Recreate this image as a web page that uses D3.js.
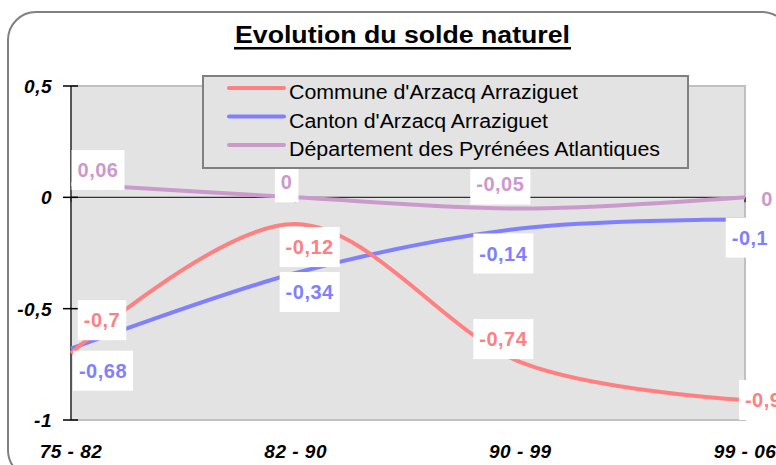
<!DOCTYPE html>
<html>
<head>
<meta charset="utf-8">
<script src="https://cdn.jsdelivr.net/npm/d3@7"></script>
<style>
  body { margin: 0; background: #fff; }
  svg { display: block; font-family: "Liberation Sans", Arial, sans-serif; }
</style>
</head>
<body>
<div id="chart"></div>
<script>
// data
const categories = ["75 - 82", "82 - 90", "90 - 99", "99 - 06"];
const commune = [-0.7, -0.12, -0.74, -0.91];
const canton = [-0.68, -0.34, -0.14, -0.1];
const departement = [0.06, 0, -0.05, 0];
const seriesNames = ["Commune d'Arzacq Arraziguet", "Canton d'Arzacq Arraziguet", "Département des Pyrénées Atlantiques"];
const yTicks = [0.5, 0, -0.5, -1];

const width = 776, height = 465;
const plot = { left: 71, right: 745, top: 86, bottom: 420 };

const series = [
  { name: seriesNames[0], values: commune, color: "#FF8080",
    // label offsets (centre of label box relative to the point)
    offsets: [[31, -33], [14, 23], [-17, -23], [24, 0]] },
  { name: seriesNames[1], values: canton, color: "#8080FF",
    offsets: [[32, 22], [14, 19], [-17, 25], [5, 18]] },
  { name: seriesNames[2], values: departement, color: "#CC99CC",
    offsets: [[27, -14], [-9, -15], [-20, -24], [22, 2]] }
];

const fmt = v => String(v).replace(".", ",");

const svg = d3.select("#chart").append("svg")
  .attr("width", width)
  .attr("height", height);

// outer chart frame
svg.append("rect")
  .attr("x", 8).attr("y", 12)
  .attr("width", 782).attr("height", 466)
  .attr("rx", 28)
  .attr("fill", "#fff")
  .attr("stroke", "#808080")
  .attr("stroke-width", 2);

// title
svg.append("text")
  .attr("x", 235).attr("y", 43)
  .attr("textLength", 335)
  .attr("lengthAdjust", "spacingAndGlyphs")
  .style("font-size", "23px")
  .style("font-weight", "bold")
  .text("Evolution du solde naturel");
svg.append("rect")
  .attr("x", 234).attr("y", 47)
  .attr("width", 337).attr("height", 2.5)
  .attr("fill", "#000");

const x = d3.scalePoint()
  .domain(categories)
  .range([plot.left, plot.right]);

const y = d3.scaleLinear()
  .domain([-1, 0.5])
  .range([plot.bottom, plot.top]);

// plot area
svg.append("rect")
  .attr("x", plot.left).attr("y", plot.top)
  .attr("width", plot.right - plot.left)
  .attr("height", plot.bottom - plot.top)
  .attr("fill", "#E3E3E3")
  .attr("stroke", "#C0C0C0")
  .attr("stroke-width", 2);

// zero line with category ticks
svg.append("line")
  .attr("x1", plot.left).attr("x2", plot.right)
  .attr("y1", y(0)).attr("y2", y(0))
  .attr("stroke", "#333")
  .attr("stroke-width", 1.2);
svg.selectAll("line.xtick")
  .data(categories)
  .enter().append("line")
  .attr("class", "xtick")
  .attr("x1", d => x(d)).attr("x2", d => x(d))
  .attr("y1", y(0)).attr("y2", y(0) + 5)
  .attr("stroke", "#000")
  .attr("stroke-width", 1.2);

// y axis
svg.append("line")
  .attr("x1", plot.left).attr("x2", plot.left)
  .attr("y1", plot.top).attr("y2", plot.bottom)
  .attr("stroke", "#333")
  .attr("stroke-width", 1.5);
svg.selectAll("line.ytick")
  .data(yTicks)
  .enter().append("line")
  .attr("class", "ytick")
  .attr("x1", plot.left - 8).attr("x2", plot.left + 7)
  .attr("y1", d => y(d)).attr("y2", d => y(d))
  .attr("stroke", "#000")
  .attr("stroke-width", 1.5);
svg.selectAll("text.ylab")
  .data(yTicks)
  .enter().append("text")
  .attr("class", "ylab")
  .attr("x", 52)
  .attr("y", d => y(d) + 7)
  .attr("text-anchor", "end")
  .style("font-size", "19px")
  .style("letter-spacing", "0.5px")
  .style("font-weight", "bold")
  .style("font-style", "italic")
  .text(d => fmt(d));

// x labels
svg.selectAll("text.xlab")
  .data(categories)
  .enter().append("text")
  .attr("class", "xlab")
  .attr("x", d => x(d))
  .attr("y", 458)
  .attr("text-anchor", "middle")
  .style("font-size", "19px")
  .style("letter-spacing", "0.5px")
  .style("font-weight", "bold")
  .style("font-style", "italic")
  .text(d => d);

// lines
const line = d3.line()
  .x((d, i) => x(categories[i]))
  .y(d => y(d))
  .curve(d3.curveCatmullRom.alpha(0));

[...series].reverse().forEach(s => {
  svg.append("path")
    .datum(s.values)
    .attr("d", line)
    .attr("fill", "none")
    .attr("stroke", s.color)
    .attr("stroke-width", 4)
    .attr("stroke-linejoin", "round");
});

// data labels
series.forEach(s => {
  s.values.forEach((v, i) => {
    const cx = x(categories[i]) + s.offsets[i][0];
    const cy = y(v) + s.offsets[i][1];
    const g = svg.append("g");
    const t = g.append("text")
      .attr("x", cx)
      .attr("y", cy + 7)
      .attr("text-anchor", "middle")
      .style("font-size", "20px")
      .style("letter-spacing", "0.5px")
      .style("font-weight", "bold")
      .attr("fill", s.color)
      .text(fmt(v));
    const w = t.node().getComputedTextLength();
    g.insert("rect", "text")
      .attr("x", cx - w / 2 - 6)
      .attr("y", cy - 20)
      .attr("width", w + 12)
      .attr("height", 40)
      .attr("fill", "#fff");
  });
});

// legend
const legend = svg.append("g");
legend.append("rect")
  .attr("x", 203).attr("y", 76)
  .attr("width", 485).attr("height", 92)
  .attr("fill", "#E3E3E3")
  .attr("stroke", "#808080")
  .attr("stroke-width", 2);

const legendWidths = [289, 259, 371];
series.forEach((s, i) => {
  const by = 99 + i * 28.5;
  legend.append("line")
    .attr("x1", 229).attr("x2", 284)
    .attr("y1", by - 11).attr("y2", by - 11)
    .attr("stroke", s.color)
    .attr("stroke-width", 4)
    .attr("stroke-linecap", "round");
  legend.append("text")
    .attr("x", 289)
    .attr("y", by)
    .attr("textLength", legendWidths[i])
    .attr("lengthAdjust", "spacingAndGlyphs")
    .style("font-size", "20px")
    .text(s.name);
});
</script>
</body>
</html>
